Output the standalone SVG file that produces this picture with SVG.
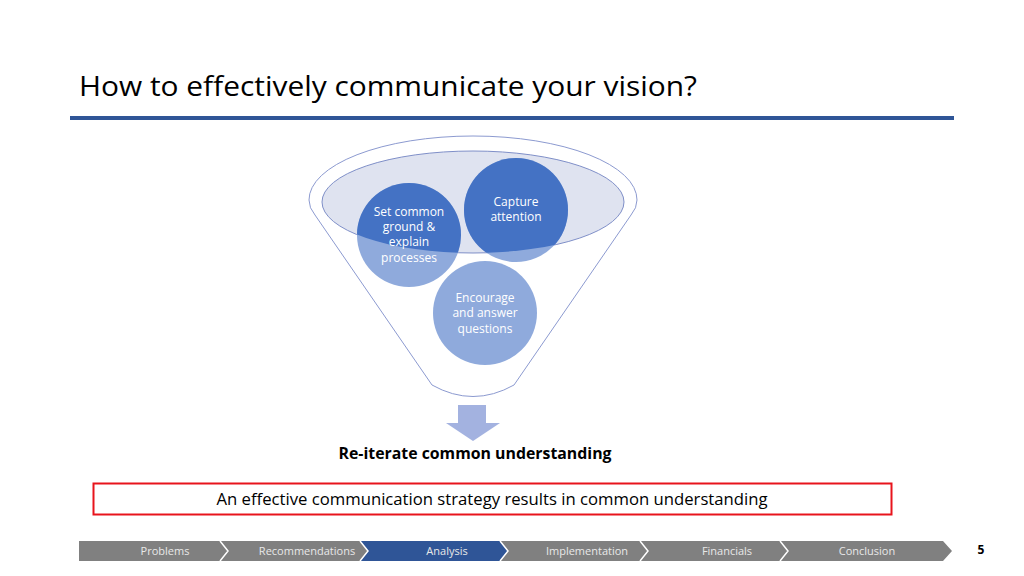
<svg xmlns="http://www.w3.org/2000/svg" width="1024" height="576" viewBox="0 0 1024 576">
<style>
.title{font-family:"Open Sans","Liberation Sans",sans-serif;font-size:28px;fill:#000}
.ct{font-family:"Open Sans","Liberation Sans",sans-serif;font-size:12px;fill:#fff;text-anchor:middle}
.nav{font-family:"Open Sans","Liberation Sans",sans-serif;font-size:11px;fill:#e8e8e8;text-anchor:middle}
.body{font-family:"Open Sans","Liberation Sans",sans-serif;font-size:16px;fill:#000;text-anchor:middle}
.seg{fill:#808080}
.sep{fill:none;stroke:#fff;stroke-width:1.5}
</style>
<defs>
<clipPath id="inner"><ellipse cx="473" cy="202" rx="151" ry="51"/></clipPath>
</defs>
<rect width="1024" height="576" fill="#fff"/>
<text class="title" x="79" y="96" textLength="618" lengthAdjust="spacingAndGlyphs">How to effectively communicate your vision?</text>
<rect x="70" y="116" width="884" height="4" fill="#2F5597"/>

<g id="funnel">
<path d="M 309 200 A 164 64 0 0 1 637 200 Q 637 208 631 215 L 514 385 Q 473 408 432 385 L 315 215 Q 309 208 309 200 Z" fill="#fff" stroke="#8C9AD0" stroke-width="1"/>
<ellipse cx="473" cy="202" rx="151" ry="51" fill="#DFE3F0" stroke="#7F8FC8" stroke-width="1"/>
</g>

<g id="circle-setcommon">
<circle cx="409" cy="235" r="52" fill="#8FAADC"/>
<circle cx="409" cy="235" r="52" fill="#4472C4" clip-path="url(#inner)"/>
<text class="ct" x="409" y="216">Set common</text>
<text class="ct" x="409" y="231">ground &amp;</text>
<text class="ct" x="409" y="246">explain</text>
<text class="ct" x="409" y="262">processes</text>
</g>
<g id="circle-capture">
<circle cx="516" cy="210" r="52" fill="#8FAADC"/>
<circle cx="516" cy="210" r="52" fill="#4472C4" clip-path="url(#inner)"/>
<text class="ct" x="516" y="206">Capture</text>
<text class="ct" x="516" y="221">attention</text>
</g>
<g id="circle-encourage">
<circle cx="485" cy="313" r="52" fill="#8FAADC"/>
<text class="ct" x="485" y="302">Encourage</text>
<text class="ct" x="485" y="317">and answer</text>
<text class="ct" x="485" y="333">questions</text>
</g>

<g id="connectors">
<path d="M 458 405 L 486 405 L 486 423 L 500 423 L 473 441 L 446 423 L 458 423 Z" fill="#A3B2E0"/>
</g>

<g id="result">
<text class="body" x="475" y="459" font-weight="bold" textLength="273" lengthAdjust="spacingAndGlyphs">Re-iterate common understanding</text>
</g>

<g id="summary">
<rect x="93.5" y="483.5" width="798" height="31" fill="#fff" stroke="#E8141C" stroke-width="2"/>
<text class="body" x="492" y="505" textLength="551" lengthAdjust="spacingAndGlyphs">An effective communication strategy results in common understanding</text>
</g>

<g id="nav">
<path class="seg" d="M 79 541 L 220 541 L 228 551 L 220 561 L 79 561 Z"/>
<path class="seg" d="M 220 541 L 360 541 L 368 551 L 360 561 L 220 561 L 228 551 Z"/>
<path fill="#2F5597" d="M 360 541 L 500 541 L 508 551 L 500 561 L 360 561 L 368 551 Z"/>
<path class="seg" d="M 500 541 L 640 541 L 648 551 L 640 561 L 500 561 L 508 551 Z"/>
<path class="seg" d="M 640 541 L 780 541 L 788 551 L 780 561 L 640 561 L 648 551 Z"/>
<path class="seg" d="M 780 541 L 943 541 L 952 551 L 943 561 L 780 561 L 788 551 Z"/>
<path class="sep" d="M 220 541 L 228 551 L 220 561 M 360 541 L 368 551 L 360 561 M 500 541 L 508 551 L 500 561 M 640 541 L 648 551 L 640 561 M 780 541 L 788 551 L 780 561"/>
<text class="nav" x="165" y="555">Problems</text>
<text class="nav" x="307" y="555">Recommendations</text>
<text class="nav" x="447" y="555">Analysis</text>
<text class="nav" x="587" y="555">Implementation</text>
<text class="nav" x="727" y="555">Financials</text>
<text class="nav" x="867" y="555">Conclusion</text>
<text x="981" y="554" font-family="Open Sans, Liberation Sans, sans-serif" font-size="12" font-weight="bold" text-anchor="middle" fill="#000">5</text>
</g>
</svg>
